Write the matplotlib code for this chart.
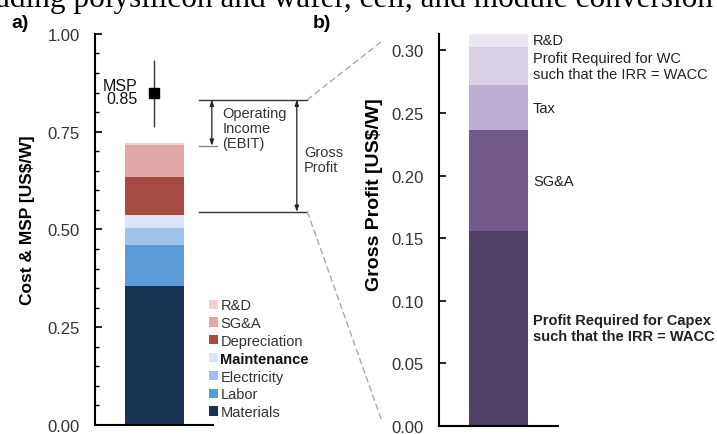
import numpy as np
import matplotlib
matplotlib.use('Agg')
from matplotlib import pyplot as plt
from matplotlib.patches import Patch, ConnectionPatch
from matplotlib.ticker import MultipleLocator

plt.rcParams['font.family'] = ['Liberation Sans', 'DejaVu Sans']

# panel a) cost stack (bottom -> top)
COST_LABELS = ['Materials', 'Labor', 'Electricity', 'Maintenance', 'Depreciation', 'SG&A', 'R&D']
COST_VALUES = [0.355, 0.104, 0.044, 0.035, 0.095, 0.084, 0.005]
COST_COLORS = ['#1a3352', '#5b9bd8', '#9fc3e8', '#d6e6f6', '#a74b45', '#e2a7a7', '#f3cece']

MSP = 0.85
MSP_LOW = 0.763
MSP_HIGH = 0.934

# bracket levels for the gross profit / EBIT annotation
GROSS_TOP = 0.832
GROSS_BOTTOM = 0.545
EBIT_BOTTOM = 0.714

# panel b) gross profit stack (bottom -> top)
GP_LABELS = ['Profit Required for Capex\nsuch that the IRR = WACC', 'SG&A', 'Tax',
             'Profit Required for WC\nsuch that the IRR = WACC', 'R&D']
GP_VALUES = [0.156, 0.080, 0.036, 0.031, 0.010]
GP_COLORS = ['#4e3f63', '#715a8a', '#bfaed4', '#d9d0e3', '#ece6f1']

fig = plt.figure(figsize=(7.17, 4.35), dpi=100)
ax1 = fig.add_axes([0.1325, 0.0207, 0.1646, 0.899])
ax2 = fig.add_axes([0.6123, 0.0184, 0.166, 0.901])

# ---- panel a
bottom = 0
for val, col in zip(COST_VALUES, COST_COLORS):
    ax1.bar(0.5, val, width=0.5, bottom=bottom, color=col, edgecolor='none')
    bottom += val

ax1.errorbar([0.5], [MSP], yerr=[[MSP - MSP_LOW], [MSP_HIGH - MSP]], fmt='s', color='black',
             ecolor='#333333', elinewidth=1, markersize=7, capsize=0)
ax1.text(0.36, MSP + 0.002, 'MSP\n0.85', ha='right', va='center', fontsize=11.5,
         linespacing=0.8, color='#111111')

ax1.set_xlim(0, 1)
ax1.set_ylim(0, 1.0)
ax1.yaxis.set_major_locator(MultipleLocator(0.25))
ax1.yaxis.set_minor_locator(MultipleLocator(0.05))
ax1.set_yticks([0, 0.25, 0.5, 0.75, 1.0])
ax1.set_yticklabels(['0.00', '0.25', '0.50', '0.75', '1.00'])
ax1.tick_params(axis='y', which='both', direction='in', pad=11, labelsize=12, labelcolor='#333333')
ax1.tick_params(axis='y', which='major', length=5, width=1.2)
ax1.tick_params(axis='y', which='minor', length=3, width=1)
ax1.set_xticks([])
for side in ['top', 'right']:
    ax1.spines[side].set_visible(False)
ax1.spines['left'].set_linewidth(1.5)
ax1.spines['bottom'].set_linewidth(1.5)
ax1.set_ylabel('Cost & MSP [US$/W]', fontsize=12.5, fontweight='bold')
ax1.yaxis.set_label_coords(-0.51, 0.527)

handles = [Patch(facecolor=c, edgecolor='none') for c in COST_COLORS][::-1]
leg = ax1.legend(handles, COST_LABELS[::-1], loc='lower left', bbox_to_anchor=(0.92, 0.0),
                 frameon=False, fontsize=10.5, handlelength=0.6, handleheight=0.6,
                 handletextpad=0.15, labelspacing=0.26, borderaxespad=0)
for t in leg.get_texts():
    t.set_color('#333333')
    if t.get_text() == 'Maintenance':
        t.set_fontweight('bold')
        t.set_color('#111111')

# brackets for operating income and gross profit
line_kw = dict(color='#333333', lw=1, clip_on=False)
ax1.plot([0.88, 1.80], [GROSS_TOP, GROSS_TOP], **line_kw)
ax1.plot([0.88, 1.80], [GROSS_BOTTOM, GROSS_BOTTOM], **line_kw)
ax1.plot([0.88, 1.03], [EBIT_BOTTOM, EBIT_BOTTOM], color='#888888', lw=1, clip_on=False)
arrow_kw = dict(arrowstyle='<|-|>,head_length=0.35,head_width=0.12', color='#222222', lw=0.9,
                shrinkA=0, shrinkB=0)
ax1.annotate('', xy=(0.99, EBIT_BOTTOM), xytext=(0.99, GROSS_TOP), arrowprops=arrow_kw,
             annotation_clip=False)
ax1.annotate('', xy=(1.71, GROSS_BOTTOM), xytext=(1.71, GROSS_TOP), arrowprops=arrow_kw,
             annotation_clip=False)
ax1.text(1.08, 0.760, 'Operating\nIncome\n(EBIT)', ha='left', va='center', fontsize=10.5,
         color='#333333', linespacing=1.1, clip_on=False)
ax1.text(1.77, 0.679, 'Gross\nProfit', ha='left', va='center', fontsize=10.5,
         color='#333333', linespacing=1.1, clip_on=False)

# ---- panel b
bottom = 0
for val, col, lab in zip(GP_VALUES, GP_COLORS, GP_LABELS):
    ax2.bar(0.5, val, width=0.49, bottom=bottom, color=col, edgecolor='none')
    bold = 'bold' if lab.startswith('Profit Required for Capex') else 'normal'
    ax2.text(0.79, bottom + val / 2, lab, ha='left', va='center', fontsize=10.5,
             fontweight=bold, color='#222222', linespacing=1.2, clip_on=False)
    bottom += val

ax2.set_xlim(0, 1)
ax2.set_ylim(0, 0.313)
ax2.set_yticks([0, 0.05, 0.10, 0.15, 0.20, 0.25, 0.30])
ax2.set_yticklabels(['0.00', '0.05', '0.10', '0.15', '0.20', '0.25', '0.30'])
ax2.tick_params(axis='y', direction='in', pad=11, labelsize=12, labelcolor='#333333',
                length=5, width=1.2)
ax2.set_xticks([])
for side in ['top', 'right']:
    ax2.spines[side].set_visible(False)
ax2.spines['left'].set_linewidth(1.5)
ax2.spines['bottom'].set_linewidth(1.5)
ax2.set_ylabel('Gross Profit [US$/W]', fontsize=14, fontweight='bold')
ax2.yaxis.set_label_coords(-0.47, 0.594)

# dashed zoom lines between the panels
for ya, yb, xb in [(GROSS_TOP, 0.308, -0.47), (GROSS_BOTTOM, 0.004, -0.48)]:
    con = ConnectionPatch(xyA=(1.80, ya), coordsA=ax1.transData,
                          xyB=(xb, yb), coordsB=ax2.transData,
                          linestyle=(0, (4, 3)), color='#aaaaaa', lw=1)
    fig.add_artist(con)

fig.text(0.016, 0.946, 'a)', fontsize=14, fontweight='bold', va='center')
fig.text(0.436, 0.946, 'b)', fontsize=14, fontweight='bold', va='center')
fig.text(-0.005, 0.985, 'ading polysilicon and wafer, cell, and module conversion',
         family=['Liberation Serif', 'DejaVu Serif'], fontsize=22.5, va='baseline', ha='left')

fig.savefig('out.png', dpi=100)
